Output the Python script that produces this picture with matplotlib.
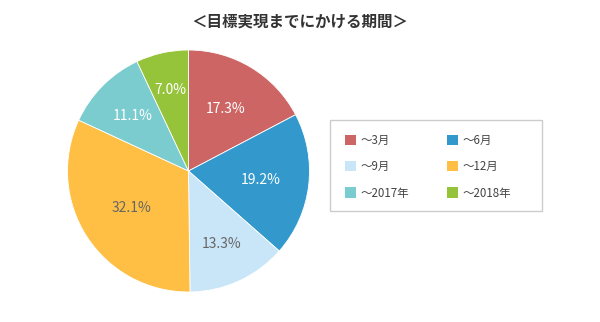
import matplotlib
matplotlib.use("Agg")
import matplotlib.pyplot as plt
from matplotlib.patches import Patch, Rectangle
import numpy as np

plt.rcParams['font.family'] = ['Noto Sans CJK JP', 'DejaVu Sans']

labels = ["～3月", "～6月", "～9月", "～12月", "～2017年", "～2018年"]
values = [17.3, 19.2, 13.3, 32.1, 11.1, 7.0]
colors = ["#CD6565", "#3399CC", "#C9E6F8", "#FEBF44", "#7ACCCF", "#95C33A"]
text_colors = ["white", "white", "#666666", "#666666", "white", "white"]
# how far out each percentage label sits (fraction of radius)
label_dist = [0.60, 0.60, 0.66, 0.56, 0.65, 0.69]

W, H = 600, 322
fig = plt.figure(figsize=[W / 100, H / 100], dpi=100)

# pie axes: center ~ (188, 171) px, radius ~121 px
cx, cy, r = 188.5, 171, 121
ax = fig.add_axes([(cx - r) / W, (H - cy - r) / H, 2 * r / W, 2 * r / H])
wedges, texts, autotexts = ax.pie(values, colors=colors, startangle=90, counterclock=False,
                                  autopct="%.1f%%", pctdistance=0.6,
                                  wedgeprops={"linewidth": 0.6, "edgecolor": "white"})
for w, t, c, d in zip(wedges, autotexts, text_colors, label_dist):
    ang = np.deg2rad((w.theta1 + w.theta2) / 2)
    t.set_position((d * np.cos(ang), d * np.sin(ang)))
    t.set_color(c)
    t.set_fontsize(10)
ax.set_xlim(-1, 1)
ax.set_ylim(-1, 1)
ax.set_aspect("equal")

fig.text(0.5, 1 - 22 / H, "＜目標実現までにかける期間＞", ha="center", va="center",
         fontsize=11.2, fontweight="bold", color="#333333")

# legend box frame
fig.patches.append(Rectangle((330 / W, 1 - 211 / H), 212 / W, 91 / H, transform=fig.transFigure,
                             facecolor="white", edgecolor="#CCCCCC", linewidth=1.0, zorder=0))

handles = [Patch(facecolor=c, edgecolor="none") for c in colors]
# row-wise order for a 2-column legend
order = [0, 2, 4, 1, 3, 5]
leg = fig.legend([handles[i] for i in order], [labels[i] for i in order], ncol=2,
                 loc="upper left", bbox_to_anchor=(344.5 / W, 1 - 134 / H),
                 frameon=False, fontsize=8.3, handlelength=1.0,
                 handleheight=1.0, handletextpad=0.35, columnspacing=3.3,
                 labelspacing=1.15, borderpad=0, borderaxespad=0, labelcolor="#444444")

fig.savefig("out.png", dpi=100)
